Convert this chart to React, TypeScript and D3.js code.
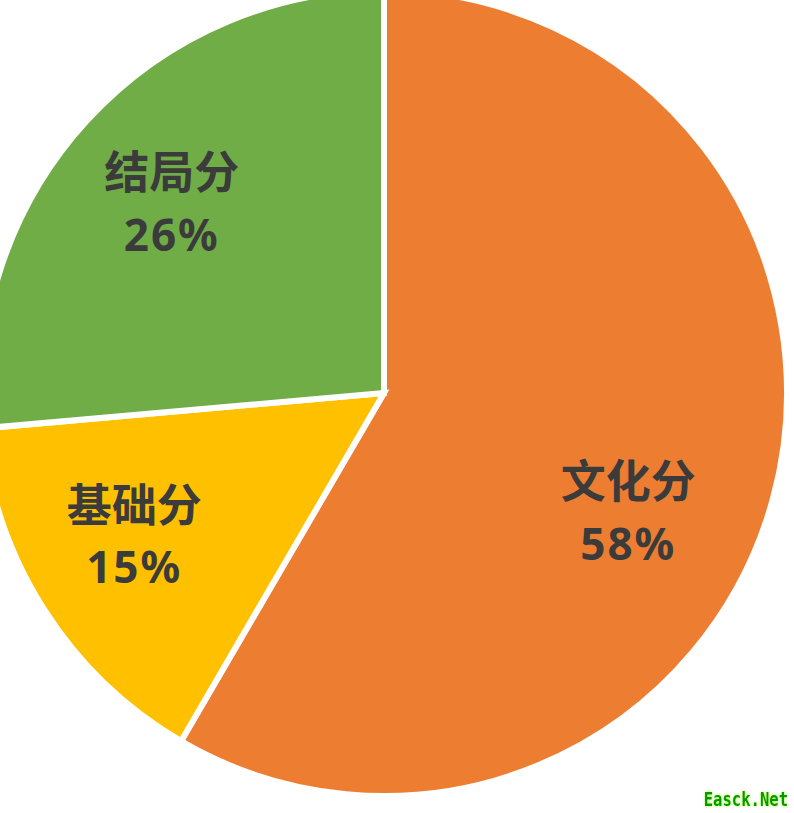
import React from "react";
import * as d3 from "d3";

const categories = ["文化分", "基础分", "结局分"];
const values = [58.4, 15.2, 26.4];
const percentLabels = ["58%", "15%", "26%"];
const colors = ["#ED7D31", "#FFC000", "#70AD47"];
// small angular nudges (degrees) for label placement, as in the source
const labelAngleNudge = [11, 2.5, -0.8];
const labelRadiusFactor = [0.675, 0.715, 0.705];

const W = 794;
const H = 813;
const cx = 384;
const cy = 393;
const R = 403;

export default function App() {
  const pie = d3
    .pie<number>()
    .sort(null)
    .value((d) => d);
  const arcs = pie(values);
  const arcGen = d3.arc<d3.PieArcDatum<number>>().innerRadius(0).outerRadius(R);

  return (
    <svg
      width={W}
      height={H}
      style={{ position: "absolute", left: 0, top: 0, background: "#fff" }}
    >
      <defs>
        <filter id="glow" x="-20%" y="-50%" width="140%" height="200%">
          <feGaussianBlur in="SourceAlpha" stdDeviation="1.5" result="b" />
          <feFlood floodColor="#7CFC00" floodOpacity="0.8" />
          <feComposite in2="b" operator="in" result="g" />
          <feMerge>
            <feMergeNode in="g" />
            <feMergeNode in="SourceGraphic" />
          </feMerge>
        </filter>
      </defs>
      <g transform={`translate(${cx},${cy})`}>
        {arcs.map((a, i) => (
          <path
            key={i}
            d={arcGen(a) || ""}
            fill={colors[i]}
            stroke="#fff"
            strokeWidth={6}
            strokeLinejoin="miter"
          />
        ))}
        {arcs.map((a, i) => {
          const mid = (a.startAngle + a.endAngle) / 2 + (labelAngleNudge[i] * Math.PI) / 180;
          const r = R * labelRadiusFactor[i];
          const x = Math.sin(mid) * r;
          const y = -Math.cos(mid) * r;
          return (
            <g key={"l" + i} transform={`translate(${x},${y})`}>
              <text
                textAnchor="middle"
                y={-31}
                dy="0.36em"
                fill="#3B3B3B"
                fontFamily="'Noto Sans CJK SC', 'Noto Sans', sans-serif"
                fontWeight={700}
                fontSize={45}
              >
                {categories[i]}
              </text>
              <text
                textAnchor="middle"
                y={31}
                dy="0.36em"
                fill="#3B3B3B"
                fontFamily="'Noto Sans', 'Noto Sans CJK SC', sans-serif"
                fontWeight={700}
                fontSize={44}
                letterSpacing={2}
              >
                {percentLabels[i]}
              </text>
            </g>
          );
        })}
      </g>
      <g transform="translate(788,806) scale(0.82,1)">
        <text
          x={0}
          y={0}
          textAnchor="end"
          fill="#009900"
          fontFamily="'DejaVu Sans Mono', monospace"
          fontWeight={700}
          fontSize={19}
          filter="url(#glow)"
        >
          Easck.Net
        </text>
      </g>
    </svg>
  );
}
